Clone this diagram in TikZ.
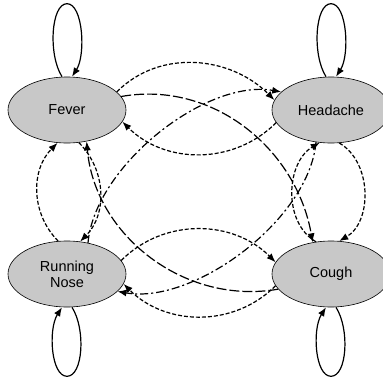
\documentclass[tikz,border=0pt]{standalone}
\usepackage{fontspec}
\setmainfont{Liberation Sans}
\usetikzlibrary{shapes.geometric,arrows.meta}
\tikzset{>={Latex[length=9pt,width=7pt]}}
\definecolor{nodegray}{RGB}{200,200,200}
\tikzset{
    symptom/.style={ellipse, draw=black, line width=0.6pt, fill=nodegray, minimum width=118pt, minimum height=66pt, inner sep=0pt, align=center, font=\fontsize{14.5}{16}\selectfont},
    selfloop/.style={->, line width=1.2pt},
    sideedge/.style={->, line width=1.2pt, dash pattern=on 4pt off 2pt},
    crossdash/.style={->, line width=1.2pt, dash pattern=on 10pt off 3pt},
    crossdot/.style={->, line width=1.2pt, dash pattern=on 8pt off 3pt on 2pt off 3pt}
}
\begin{document}
\begin{tikzpicture}[x=1pt,y=1pt]
    \clip (0,0) rectangle (383,-378);

    \node[symptom] (fever) at (67,-110) {Fever};
    \node[symptom] (headache) at (331,-110) {Headache};
    \node[symptom] (nose) at (67,-274) {Running\\Nose};
    \node[symptom] (cough) at (331,-274) {Cough};

    % self loops
    \draw[selfloop] ([xshift=-5pt]fever.north) .. controls +(-14,22) and +(-16,0) .. ([yshift=73pt]fever.north) .. controls +(16,0) and +(14,22) .. ([xshift=5pt]fever.north);
    \draw[selfloop] ([xshift=-5pt]headache.north) .. controls +(-14,22) and +(-16,0) .. ([yshift=73pt]headache.north) .. controls +(16,0) and +(14,22) .. ([xshift=5pt]headache.north);
    \draw[selfloop] ([xshift=5pt]nose.south) .. controls +(14,-22) and +(16,0) .. ([yshift=-69pt]nose.south) .. controls +(-16,0) and +(-14,-22) .. ([xshift=-5pt]nose.south);
    \draw[selfloop] ([xshift=5pt]cough.south) .. controls +(14,-22) and +(16,0) .. ([yshift=-69pt]cough.south) .. controls +(-16,0) and +(-14,-22) .. ([xshift=-5pt]cough.south);

    % neighbours
    \draw[sideedge] (fever.20) to[out=45,in=135] (headache.170);
    \draw[sideedge] (headache.193) to[out=225,in=-45] (fever.-12);
    \draw[sideedge] (nose.14) to[out=45,in=135] (cough.168);
    \draw[sideedge] (cough.192) to[out=225,in=-45] (nose.-10);
    \draw[sideedge] (fever.-70) to[out=-45,in=45] (nose.68);
    \draw[sideedge] (nose.105) to[out=135,in=225] (fever.254);
    \draw[sideedge] (headache.-76) to[out=-30,in=30] (cough.76);
    \draw[sideedge] (cough.115) to[out=150,in=210] (headache.251);

    % diagonals
    \draw[crossdash] (fever.14) to[out=10,in=100] (cough.120);
    \draw[crossdash] (cough.196) to[out=190,in=-85] (fever.-58);
    \draw[crossdot] (nose.56) to[out=85,in=170,looseness=0.8] (headache.160);
    \draw[crossdot] (headache.245) to[out=-95,in=-10,looseness=0.8] (nose.-19);
\end{tikzpicture}
\end{document}
